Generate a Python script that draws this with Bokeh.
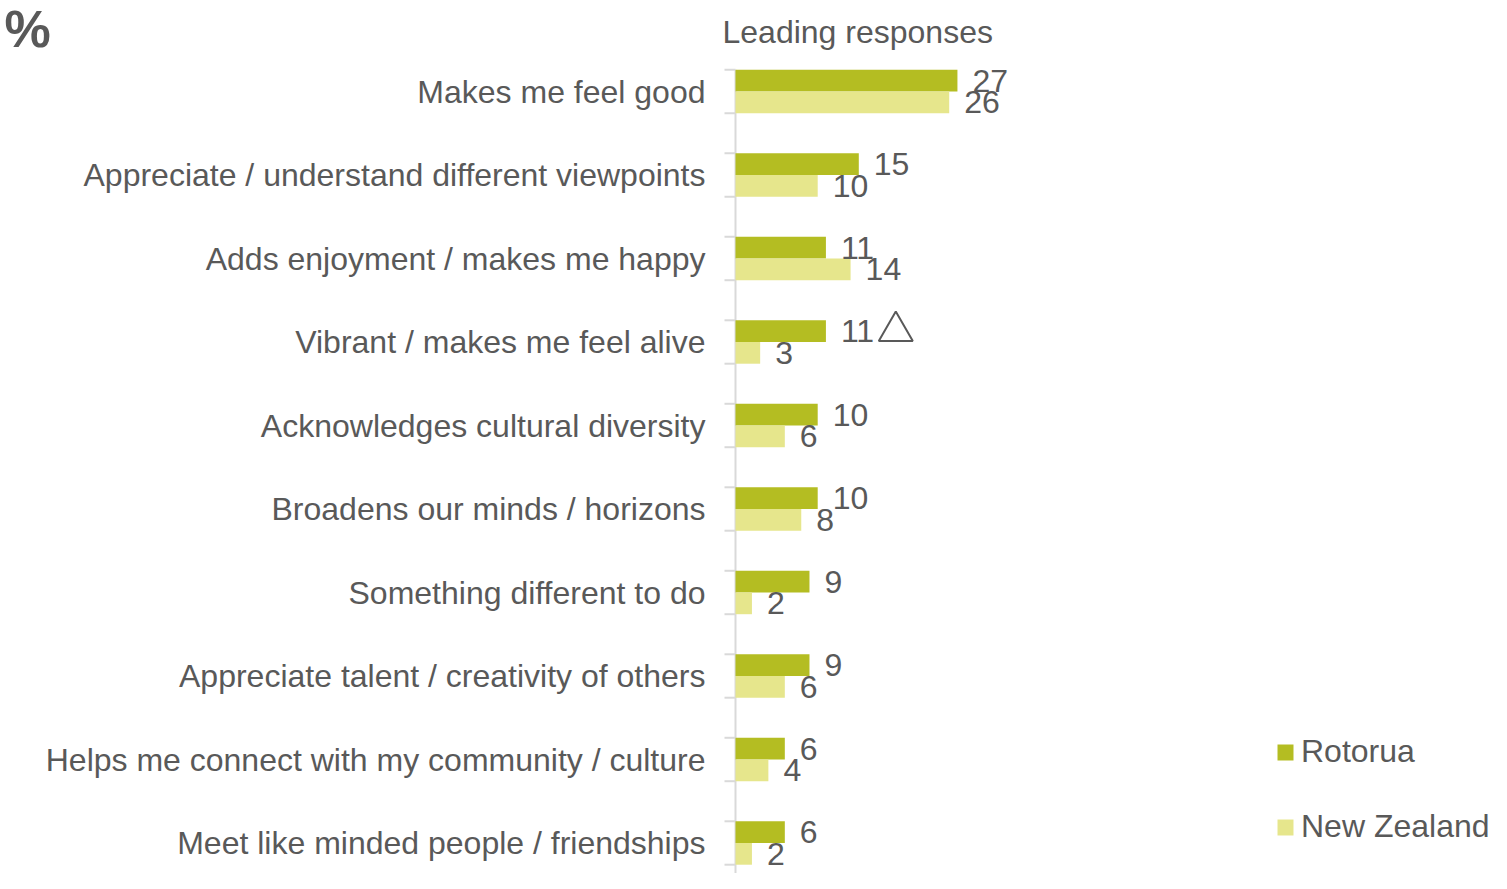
from bokeh.plotting import figure
from bokeh.models import (Range1d, Label, Legend, LegendItem, ColumnDataSource)
from bokeh.core.properties import value
from bokeh.embed import file_html
from bokeh.resources import INLINE

# ---------------- data ----------------
categories = [
    "Makes me feel good",
    "Appreciate / understand different viewpoints",
    "Adds enjoyment / makes me happy",
    "Vibrant / makes me feel alive",
    "Acknowledges cultural diversity",
    "Broadens our minds / horizons",
    "Something different to do",
    "Appreciate talent / creativity of others",
    "Helps me connect with my community / culture",
    "Meet like minded people / friendships",
]
rotorua = [27, 15, 11, 11, 10, 10, 9, 9, 6, 6]
new_zealand = [26, 10, 14, 3, 6, 8, 2, 6, 4, 2]
series_names = ["Rotorua", "New Zealand"]
significant_higher = ["Vibrant / makes me feel alive"]
title_text = "Leading responses"
unit_text = "%"

# ---------------- styles ----------------
FONT = "Liberation Sans"
TEXT_COLOR = "#595959"
ROT_COLOR = "#B4BD22"
NZ_COLOR = "#E6E68C"
AXIS_COLOR = "#D9D9D9"
FS = "32px"
BAR_H = 0.26           # each bar's thickness, in category units
PX_X = 8.22            # pixels per percentage point
PX_Y = 83.5            # pixels per category
TICK_LEN = 11 / PX_X   # tick length in data units
TRI_GAP = 8.5          # gap from Rotorua value to the marker, in data units

W, H = 1491, 873
ZERO_X = 735           # pixel column of the value axis
Y_TOP = -91 / PX_Y
p = figure(width=W, height=H, output_backend="svg", toolbar_location=None,
           x_axis_location=None, y_axis_location=None,
           x_range=Range1d(-ZERO_X / PX_X, (W - ZERO_X) / PX_X),
           y_range=Range1d(Y_TOP + H / PX_Y, Y_TOP),
           min_border_left=0, min_border_right=0,
           min_border_top=0, min_border_bottom=0)
p.outline_line_color = None
p.xgrid.visible = False
p.ygrid.visible = False
p.background_fill_color = "white"

idx = list(range(len(categories)))

# vertical axis line and group tick marks
p.segment(x0=[0], y0=[-BAR_H], x1=[0], y1=[p.y_range.start],
          line_color=AXIS_COLOR, line_width=2)
edges = [i - BAR_H for i in idx] + [i + BAR_H for i in idx]
p.segment(x0=[-TICK_LEN] * len(edges), y0=edges, x1=[0] * len(edges), y1=edges,
          line_color=AXIS_COLOR, line_width=2)

src = ColumnDataSource(dict(
    y_cat=idx,
    cat=categories,
    zero=[0] * len(idx),
    y_rot=[i - BAR_H / 2 for i in idx],
    y_nz=[i + BAR_H / 2 for i in idx],
    rot=rotorua, nz=new_zealand,
    rot_lbl=[str(v) for v in rotorua],
    nz_lbl=[str(v) for v in new_zealand],
))

# category labels
p.text(x="zero", y="y_cat", text="cat", source=src, x_offset=-30,
       text_font=value(FONT), text_font_size=FS, text_color=TEXT_COLOR,
       text_align="right", text_baseline="middle")

r_rot = p.hbar(y="y_rot", right="rot", left=0, height=BAR_H, source=src,
               fill_color=ROT_COLOR, line_color=None)
r_nz = p.hbar(y="y_nz", right="nz", left=0, height=BAR_H, source=src,
              fill_color=NZ_COLOR, line_color=None)

for xcol, ycol, tcol in (("rot", "y_rot", "rot_lbl"), ("nz", "y_nz", "nz_lbl")):
    p.text(x=xcol, y=ycol, text=tcol, source=src, x_offset=15, y_offset=0,
           text_font=value(FONT), text_font_size=FS, text_color=TEXT_COLOR,
           text_align="left", text_baseline="middle")

# significance marker
tri_x = [rotorua[categories.index(c)] + TRI_GAP for c in significant_higher]
tri_y = [categories.index(c) - BAR_H / 2 for c in significant_higher]
p.scatter(x=tri_x, y=tri_y, marker="triangle", size=34, fill_alpha=0,
          line_color=TEXT_COLOR, line_width=2)

# title and unit
p.add_layout(Label(x=ZERO_X - 13, y=H - 31, x_units="screen", y_units="screen",
                   text=title_text, text_font=FONT, text_font_size=FS,
                   text_color=TEXT_COLOR, text_baseline="alphabetic"))
p.add_layout(Label(x=4, y=H - 28, x_units="screen", y_units="screen",
                   text=unit_text, text_font=FONT, text_font_size="52px",
                   text_font_style="bold",
                   text_color=TEXT_COLOR, text_baseline="alphabetic"))

legend = Legend(items=[LegendItem(label=series_names[0], renderers=[r_rot]),
                       LegendItem(label=series_names[1], renderers=[r_nz])],
                location=(1275, 28), orientation="vertical",
                glyph_width=20, glyph_height=20, label_standoff=6,
                label_height=36, spacing=38, padding=0, margin=0,
                label_text_font=FONT, label_text_font_size=FS,
                label_text_color=TEXT_COLOR,
                border_line_color=None, background_fill_alpha=0)
p.add_layout(legend)

open("out.html", "w").write(file_html(p, INLINE))
